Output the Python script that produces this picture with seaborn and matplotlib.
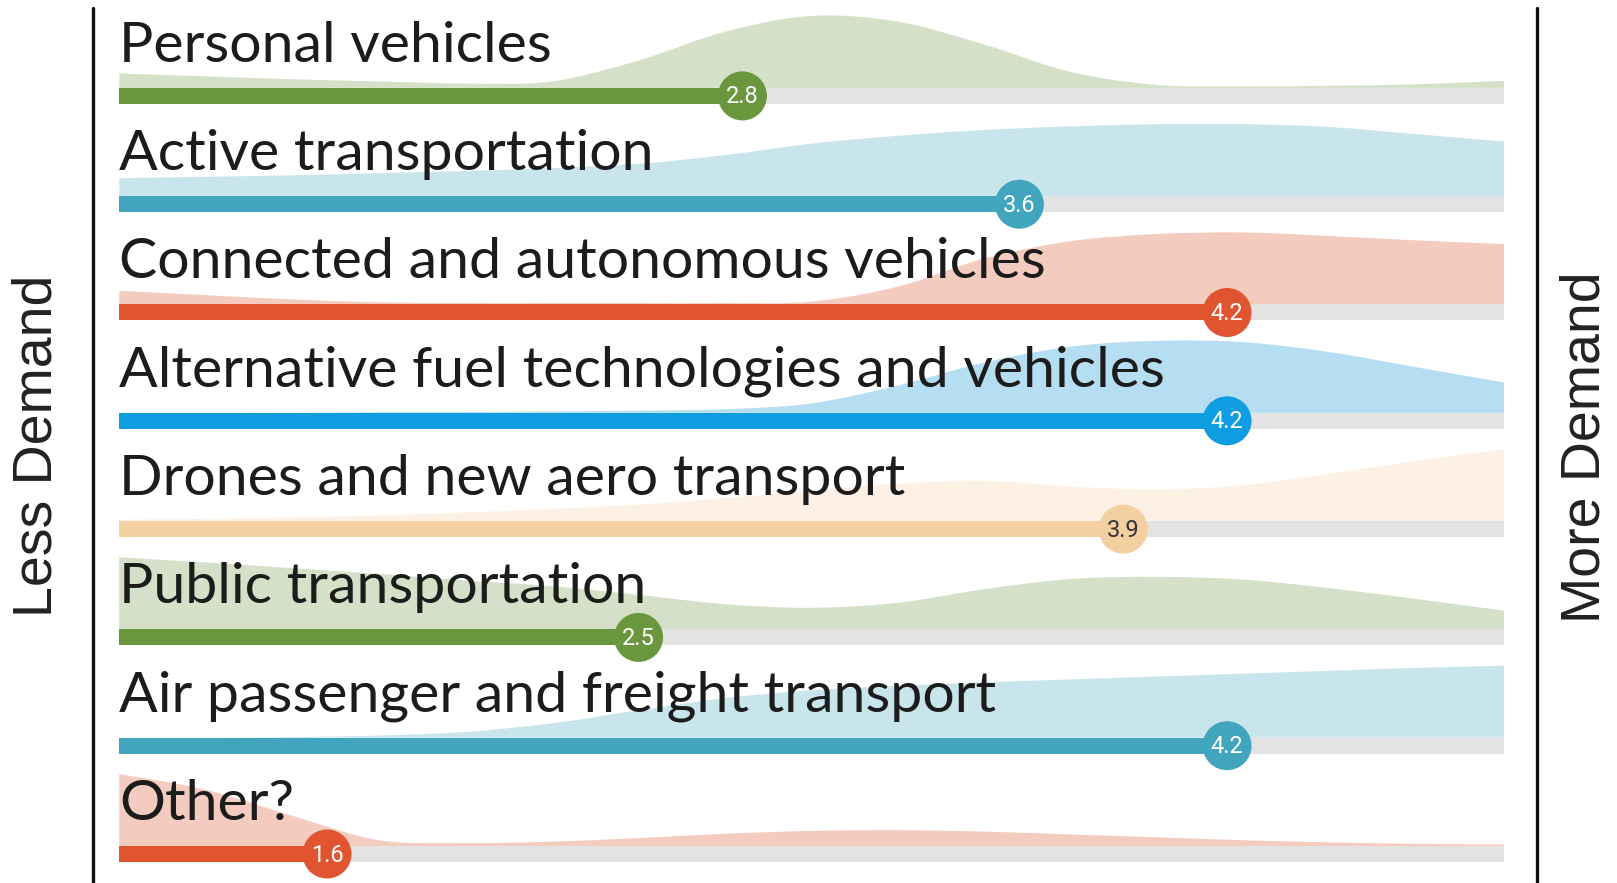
import numpy as np
import pandas as pd
import matplotlib
matplotlib.use("Agg")
import matplotlib.pyplot as plt
import seaborn as sns
from matplotlib.lines import Line2D
from matplotlib.path import Path
from matplotlib.patches import PathPatch

# ---------------- data ----------------
categories = [
    "Personal vehicles",
    "Active transportation",
    "Connected and autonomous vehicles",
    "Alternative fuel technologies and vehicles",
    "Drones and new aero transport",
    "Public transportation",
    "Air passenger and freight transport",
    "Other?",
]
scores = [2.8, 3.6, 4.2, 4.2, 3.9, 2.5, 4.2, 1.6]
score_labels = ["2.8", "3.6", "4.2", "4.2", "3.9", "2.5", "4.2", "1.6"]
scale_min, scale_max = 1, 5
left_label = "Less Demand"
right_label = "More Demand"

# response distribution shape (relative height) read at these scale points
density_x = [1.0, 1.25, 1.5, 1.75, 2.0, 2.25, 2.5, 2.75, 3.0,
             3.25, 3.5, 3.75, 4.0, 4.25, 4.5, 4.75, 5.0]
density_personal = [0.20, 0.16, 0.12, 0.09, 0.06, 0.09, 0.38, 0.78, 1.00,
                    0.92, 0.60, 0.22, 0.04, 0.02, 0.03, 0.05, 0.10]
density_active = [0.25, 0.27, 0.29, 0.32, 0.35, 0.39, 0.45, 0.57, 0.73,
                  0.84, 0.92, 0.97, 1.00, 1.00, 0.96, 0.86, 0.76]
density_connected = [0.19, 0.13, 0.07, 0.03, 0.02, 0.02, 0.02, 0.02, 0.04,
                     0.25, 0.64, 0.88, 0.98, 1.00, 0.95, 0.89, 0.84]
density_altfuel = [0.00, 0.00, 0.00, 0.01, 0.01, 0.02, 0.03, 0.05, 0.13,
                   0.38, 0.70, 0.92, 1.00, 0.98, 0.84, 0.63, 0.42]
density_drones = [0.02, 0.03, 0.05, 0.08, 0.12, 0.17, 0.23, 0.32, 0.42,
                  0.52, 0.56, 0.48, 0.44, 0.50, 0.66, 0.84, 1.00]
density_public = [1.00, 0.93, 0.85, 0.77, 0.68, 0.60, 0.48, 0.35, 0.30,
                  0.37, 0.56, 0.70, 0.73, 0.69, 0.57, 0.42, 0.26]
density_air = [0.00, 0.00, 0.01, 0.03, 0.08, 0.20, 0.38, 0.55, 0.66,
               0.72, 0.77, 0.81, 0.85, 0.89, 0.93, 0.97, 1.00]
density_other = [1.00, 0.78, 0.42, 0.08, 0.04, 0.06, 0.11, 0.17, 0.21,
                 0.22, 0.20, 0.16, 0.12, 0.08, 0.05, 0.03, 0.02]
densities = [density_personal, density_active, density_connected, density_altfuel,
             density_drones, density_public, density_air, density_other]

# ---------------- styles ----------------
bar_colors = ["#6A963E", "#42A5BE", "#E0552F", "#0E9DE0",
              "#F3CFA2", "#6A963E", "#42A5BE", "#E0552F"]
fill_colors = ["#D4E0C7", "#C9E5EC", "#F4CCBF", "#B6DEF3",
               "#FCF1E4", "#D4E0C7", "#C9E5EC", "#F4CCBF"]
badge_text_colors = ["white", "white", "white", "white",
                     "#333333", "white", "white", "white"]
track_color = "#E3E3E3"

W, H = 1617, 883
DPI = 100
row_px = 108.3          # spacing between rows in pixels
first_row_px = 95.9     # center of first bar in pixels
bar_px = 16             # bar thickness
dens_px = 72            # max density height
x_left_px, x_right_px = 119.3, 1504.0

sns.set_theme(style="white")
plt.rcParams["font.family"] = ["Lato", "DejaVu Sans"]

fig = plt.figure(figsize=(W / DPI, H / DPI), dpi=DPI)
fig.patch.set_facecolor("white")
ax = fig.add_axes([x_left_px / W, 0, (x_right_px - x_left_px) / W, 1])

n = len(categories)
rows = np.arange(n)
bar_w = bar_px / row_px
dens_h = dens_px / row_px

df = pd.DataFrame({"category": categories, "score": scores,
                   "full": [scale_max] * n})


def smooth_area(xs, base, tops):
    """Closed smooth (Catmull-Rom -> Bezier) outline through the read points."""
    xs = np.asarray(xs, float)
    ys = np.asarray(tops, float)
    px = np.concatenate([[xs[0]], xs, [xs[-1]]])
    py = np.concatenate([[ys[0]], ys, [ys[-1]]])
    verts = [(xs[0], base), (xs[0], ys[0])]
    codes = [Path.MOVETO, Path.LINETO]
    for k in range(1, len(xs)):
        p0 = np.array([px[k - 1], py[k - 1]])
        p1 = np.array([px[k], py[k]])
        p2 = np.array([px[k + 1], py[k + 1]])
        p3 = np.array([px[k + 2], py[k + 2]])
        c1 = p1 + (p2 - p0) / 6.0
        c2 = p2 - (p3 - p1) / 6.0
        verts += [tuple(c1), tuple(c2), tuple(p2)]
        codes += [Path.CURVE4] * 3
    verts += [(xs[-1], base), (xs[0], base)]
    codes += [Path.LINETO, Path.CLOSEPOLY]
    return Path(verts, codes)


# density shapes
for i, dens in enumerate(densities):
    base = i - bar_w / 2
    top = base - np.array(dens) * dens_h
    ax.add_patch(PathPatch(smooth_area(density_x, base, top),
                           facecolor=fill_colors[i], lw=0, zorder=1))

# gray track
sns.barplot(data=df, x="full", y="category", color=track_color, saturation=1,
            width=bar_w, orient="h", ax=ax, zorder=2, linewidth=0)
# colored bars
sns.barplot(data=df, x="score", y="category", hue="category", palette=bar_colors,
            saturation=1, width=bar_w, orient="h", ax=ax, zorder=3,
            linewidth=0, legend=False)

# badges
sns.scatterplot(x=scores, y=rows, hue=categories, palette=bar_colors, s=1245,
                linewidth=0, ax=ax, zorder=4, legend=False)
for i in range(n):
    ax.text(scores[i], i + 0.01, score_labels[i], ha="center", va="center",
            color=badge_text_colors[i], fontsize=17, zorder=5,
            family=["Roboto", "DejaVu Sans"])
    ax.text(scale_min, i - 0.315, categories[i], ha="left", va="baseline",
            fontsize=41.2, color="#1C1C1C", zorder=6)

ax.set_xlim(scale_min, scale_max)
ax.set_ylim((H - first_row_px) / row_px, -first_row_px / row_px)
ax.axis("off")

# frame lines and side labels
for xp in (93, 1537):
    fig.add_artist(Line2D([xp / W, xp / W], [1 - 8 / H, 0], color="#111111",
                          lw=2.4, transform=fig.transFigure))
fig.text(37 / W, 1 - 446 / H, left_label, rotation=90, ha="center", va="center",
         fontsize=40, color="#222222", family=["Liberation Sans", "DejaVu Sans"])
fig.text(1585 / W, 1 - 447 / H, right_label, rotation=90, ha="center", va="center",
         fontsize=40, color="#222222", family=["Liberation Sans", "DejaVu Sans"])

fig.savefig("out.png", dpi=DPI, facecolor="white")
